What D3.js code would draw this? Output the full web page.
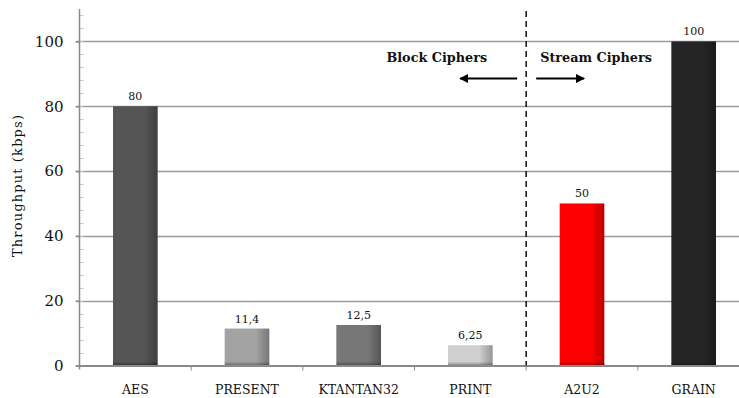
<!DOCTYPE html>
<html>
<head>
<meta charset="utf-8">
<script src="https://cdn.jsdelivr.net/npm/d3@7"></script>
<style>
  html, body { margin: 0; padding: 0; background: #fff; }
  svg { display: block; }
  text { font-family: "DejaVu Serif", "Liberation Serif", serif; fill: #111; }
</style>
</head>
<body>
<svg id="chart" width="739" height="398"></svg>
<script>
// Throughput of lightweight ciphers (kbps)
const categories = ["AES", "PRESENT", "KTANTAN32", "PRINT", "A2U2", "GRAIN"];
const throughput = [80, 11.4, 12.5, 6.25, 50, 100];
const valueLabels = ["80", "11,4", "12,5", "6,25", "50", "100"];
const yTicks = [0, 20, 40, 60, 80, 100];
const yMinorTicks = d3.range(0, 110, 4);
const barColors = ["#555555", "#a3a3a3", "#777777", "#cfcfcf", "#ff0000", "#252525"];
const groupLabels = ["Block Ciphers", "Stream Ciphers"];

const svg = d3.select("#chart");
const plot = { left: 79.5, right: 749.5, top: 9, bottom: 365.5 };

const x = d3.scaleBand().domain(categories).range([plot.left, plot.right]).paddingInner(0.6).paddingOuter(0.3);
const xb = d3.scaleBand().domain(categories).range([plot.left, plot.right]);
const y = d3.scaleLinear().domain([0, 110]).range([plot.bottom, plot.top]);

// gradients: flat colour with a darker right edge
const defs = svg.append("defs");
barColors.forEach((c, i) => {
  const g = defs.append("linearGradient").attr("id", "bar" + i).attr("x1", 0).attr("x2", 1).attr("y1", 0).attr("y2", 0);
  g.append("stop").attr("offset", "0%").attr("stop-color", c);
  g.append("stop").attr("offset", "70%").attr("stop-color", c);
  g.append("stop").attr("offset", "100%").attr("stop-color", d3.color(c).darker(0.9));
});
const shade = defs.append("linearGradient").attr("id", "shadeBottom").attr("x1", 0).attr("x2", 0).attr("y1", 0).attr("y2", 1);
shade.append("stop").attr("offset", "0%").attr("stop-color", "#000").attr("stop-opacity", 0);
shade.append("stop").attr("offset", "100%").attr("stop-color", "#000").attr("stop-opacity", 0.35);

// gridlines
svg.append("g")
  .selectAll("line").data(yTicks.filter(d => d > 0)).join("line")
  .attr("x1", plot.left - 3).attr("x2", 739)
  .attr("y1", d => Math.round(y(d)) + 0.5).attr("y2", d => Math.round(y(d)) + 0.5)
  .attr("stroke", "#9a9a9a").attr("stroke-width", 1.5);

// minor ticks on the value axis
svg.append("g")
  .selectAll("line").data(yMinorTicks).join("line")
  .attr("x1", plot.left).attr("x2", plot.left + 4)
  .attr("y1", d => Math.round(y(d)) + 0.5).attr("y2", d => Math.round(y(d)) + 0.5)
  .attr("stroke", "#c8c8c8").attr("stroke-width", 1);

// value axis
const yAxis = d3.axisLeft(y).tickValues(yTicks).tickSize(4).tickPadding(12).tickFormat(d3.format("d"));
const ya = svg.append("g").attr("transform", `translate(${plot.left},0)`).call(yAxis);
ya.select(".domain").remove();
ya.selectAll(".tick line").attr("stroke", "#8a8a8a").attr("stroke-width", 1.5);
ya.selectAll(".tick text").attr("font-size", 15).attr("font-family", "DejaVu Serif").attr("fill", "#111");
svg.append("line")
  .attr("x1", plot.left).attr("x2", plot.left)
  .attr("y1", plot.top).attr("y2", plot.bottom + 4)
  .attr("stroke", "#8a8a8a").attr("stroke-width", 1.5);

// axis title
svg.append("text")
  .attr("transform", "translate(22,186) rotate(-90)")
  .attr("text-anchor", "middle").attr("font-size", 13)
  .attr("textLength", 142).attr("lengthAdjust", "spacing")
  .text("Throughput (kbps)");

// bars
const bars = svg.append("g");
bars.selectAll("rect.bar").data(throughput).join("rect")
  .attr("class", "bar")
  .attr("x", (d, i) => x(categories[i]))
  .attr("width", x.bandwidth())
  .attr("y", d => y(d))
  .attr("height", d => y(0) - y(d))
  .attr("fill", (d, i) => `url(#bar${i})`);
bars.selectAll("rect.shade").data(throughput).join("rect")
  .attr("class", "shade")
  .attr("x", (d, i) => x(categories[i]))
  .attr("width", x.bandwidth())
  .attr("y", d => y(0) - 4)
  .attr("height", 4)
  .attr("fill", "url(#shadeBottom)");

// value labels
svg.append("g").selectAll("text").data(throughput).join("text")
  .attr("x", (d, i) => x(categories[i]) + x.bandwidth() / 2)
  .attr("y", d => y(d) - 6)
  .attr("text-anchor", "middle").attr("font-size", 11)
  .text((d, i) => valueLabels[i]);

// category axis
const xAxis = d3.axisBottom(xb).tickSize(0).tickPadding(20);
const xa = svg.append("g").attr("transform", `translate(0,${plot.bottom})`).call(xAxis);
xa.select(".domain").remove();
xa.selectAll(".tick text").attr("font-size", 12.5).attr("font-family", "DejaVu Serif").attr("fill", "#111");
svg.append("line")
  .attr("x1", plot.left - 3).attr("x2", 739)
  .attr("y1", plot.bottom + 0.5).attr("y2", plot.bottom + 0.5)
  .attr("stroke", "#8a8a8a").attr("stroke-width", 2);
svg.append("g").selectAll("line").data(categories.slice(1)).join("line")
  .attr("x1", d => xb(d)).attr("x2", d => xb(d))
  .attr("y1", plot.bottom).attr("y2", plot.bottom + 5)
  .attr("stroke", "#8a8a8a").attr("stroke-width", 1);

// separator between block and stream ciphers
const sepX = xb("A2U2");
svg.append("line")
  .attr("x1", sepX).attr("x2", sepX)
  .attr("y1", plot.top + 2).attr("y2", plot.bottom)
  .attr("stroke", "#111").attr("stroke-width", 1.5)
  .attr("stroke-dasharray", "6,4");

svg.append("text")
  .attr("x", sepX - 39).attr("y", 62)
  .attr("text-anchor", "end").attr("font-weight", "bold").attr("font-size", 12.8)
  .text(groupLabels[0]);
svg.append("text")
  .attr("x", sepX + 14).attr("y", 62)
  .attr("text-anchor", "start").attr("font-weight", "bold").attr("font-size", 12.8)
  .text(groupLabels[1]);

// arrows
defs.append("marker").attr("id", "arrowHead")
  .attr("viewBox", "0 0 10 10").attr("refX", 9).attr("refY", 5)
  .attr("markerWidth", 4.2).attr("markerHeight", 4.2).attr("orient", "auto")
  .append("path").attr("d", "M0,0 L10,5 L0,10 Z").attr("fill", "#000");
svg.append("line")
  .attr("x1", sepX - 9).attr("x2", sepX - 66).attr("y1", 78.5).attr("y2", 78.5)
  .attr("stroke", "#000").attr("stroke-width", 2.2).attr("marker-end", "url(#arrowHead)");
svg.append("line")
  .attr("x1", sepX + 10).attr("x2", sepX + 58).attr("y1", 78.5).attr("y2", 78.5)
  .attr("stroke", "#000").attr("stroke-width", 2.2).attr("marker-end", "url(#arrowHead)");
</script>
</body>
</html>
